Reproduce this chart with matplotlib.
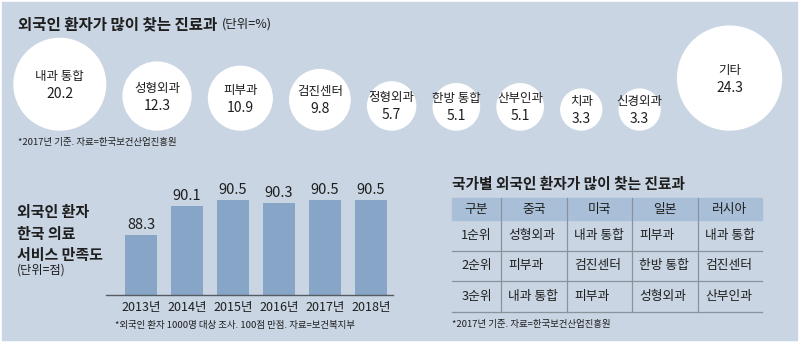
import matplotlib
matplotlib.use('Agg')
import matplotlib.pyplot as plt
from matplotlib.patches import Circle, Rectangle

# 2017 share of foreign patients by department (%)
departments = ['내과 통합', '성형외과', '피부과', '검진센터', '정형외과',
               '한방 통합', '산부인과', '치과', '신경외과', '기타']
share = [20.2, 12.3, 10.9, 9.8, 5.7, 5.1, 5.1, 3.3, 3.3, 24.3]

# satisfaction score
years = ['2013년', '2014년', '2015년', '2016년', '2017년', '2018년']
scores = [88.3, 90.1, 90.5, 90.3, 90.5, 90.5]

# top departments by country
table_cols = ['구분', '중국', '미국', '일본', '러시아']
ranks = ['1순위', '2순위', '3순위']
china = ['성형외과', '피부과', '내과 통합']
usa = ['내과 통합', '검진센터', '피부과']
japan = ['피부과', '한방 통합', '성형외과']
russia = ['내과 통합', '검진센터', '산부인과']

plt.rcParams['font.family'] = ['Noto Sans CJK KR', 'DejaVu Sans']
BG = '#c9d5e3'
INK = '#1e1e1e'
BAR = '#87a5c6'
HEAD = '#a9bfd8'
LINE = '#8a929c'

W, H = 800, 349
fig = plt.figure(figsize=(W / 100, H / 100), dpi=100)
fig.patch.set_facecolor('white')

# full-figure axes in pixel units
ax = fig.add_axes([0, 0, 1, 1])
ax.set_xlim(0, W)
ax.set_ylim(H, 0)
ax.axis('off')
ax.add_patch(Rectangle((2, 2), 795, 338, color=BG, zorder=0))

# ---- bubbles ----
title = ax.text(18, 24, '외국인 환자가 많이 찾는 진료과', fontsize=11.2, fontweight='bold',
                color=INK, va='center')
ax.annotate('(단위=%)', xy=(1, 0.5), xycoords=title, xytext=(3, 0),
            textcoords='offset points', va='center', fontsize=9, color=INK)

radii = [15.5 + 1.5 * v for v in share]
gap = 17.5
x = 14
base = 130
for name, v, r in zip(departments, share, radii):
    cx = x + r
    cy = base - r
    ax.add_patch(Circle((cx, cy), r, color='white', zorder=1))
    ax.text(cx, cy - 8, name, ha='center', va='center', fontsize=9, color=INK, zorder=2)
    ax.text(cx, cy + 9.5, f'{v:.1f}', ha='center', va='center', fontsize=10,
            fontweight='medium', color=INK, zorder=2)
    x += 2 * r + gap

ax.text(18, 142, '*2017년 기준. 자료=한국보건산업진흥원', fontsize=6.8, va='center', color=INK)

# ---- satisfaction bars ----
ax.text(17, 233.5, '외국인 환자\n한국 의료\n서비스 만족도', fontsize=10.8, fontweight='bold',
        va='center', linespacing=1.4, color=INK)
ax.text(17, 270, '(단위=점)', fontsize=8.8, va='center', color=INK)

left, right, top, bottom = 106, 393, 175, 295
bx = fig.add_axes([left / W, 1 - bottom / H, (right - left) / W, (bottom - top) / H])
bx.patch.set_alpha(0)
bars = bx.bar(range(len(years)), scores, width=0.7, color=BAR, zorder=2)
bx.set_xlim(-0.76, len(years) - 0.52)
bx.set_ylim(84.5, 92.05)
bx.bar_label(bars, labels=[f'{s:.1f}' for s in scores], padding=2, fontsize=10.5,
             color=INK)
bx.set_xticks(range(len(years)), years, fontsize=9, color=INK)
bx.tick_params(axis='x', length=0, pad=4)
bx.set_yticks([])
for s in ['top', 'right', 'left']:
    bx.spines[s].set_visible(False)
bx.spines['bottom'].set_color('#555b63')
bx.spines['bottom'].set_linewidth(1)

ax.text(115, 325, '*외국인 환자 1000명 대상 조사. 100점 만점. 자료=보건복지부',
        fontsize=6.8, va='center', color=INK)

# ---- table ----
ax.text(452, 184, '국가별 외국인 환자가 많이 찾는 진료과', fontsize=10.6, fontweight='bold',
        va='center', color=INK)

col_w = [49, 66, 65, 66, 64]
t_left, t_top = 452, 198
head_h, row_h = 22, 30.5
col_x = [t_left]
for w in col_w:
    col_x.append(col_x[-1] + w)
t_right = col_x[-1]
t_bottom = t_top + head_h + row_h * len(ranks)

ax.add_patch(Rectangle((t_left, t_top), t_right - t_left, head_h, color=HEAD, zorder=1))
for i, c in enumerate(table_cols):
    ax.text((col_x[i] + col_x[i + 1]) / 2, t_top + head_h / 2, c, ha='center',
            va='center', fontsize=9.2, color=INK, zorder=3)

body = [china, usa, japan, russia]
for j, rk in enumerate(ranks):
    yc = t_top + head_h + row_h * (j + 0.5)
    ax.text((col_x[0] + col_x[1]) / 2, yc, rk, ha='center', va='center',
            fontsize=9.2, color=INK, zorder=3)
    for i, col in enumerate(body):
        ax.text(col_x[i + 1] + 7, yc, col[j], ha='left', va='center',
                fontsize=9.2, color=INK, zorder=3)
    yl = t_top + head_h + row_h * (j + 1)
    ax.plot([t_left, t_right], [yl, yl], color=LINE, lw=0.9, zorder=2)
for xv in col_x[1:-1]:
    ax.plot([xv, xv], [t_top, t_bottom], color=LINE, lw=0.9, zorder=2)

ax.text(452, 325, '*2017년 기준. 자료=한국보건산업진흥원', fontsize=6.8, va='center', color=INK)

fig.savefig('out.png', dpi=100, facecolor=fig.get_facecolor())
